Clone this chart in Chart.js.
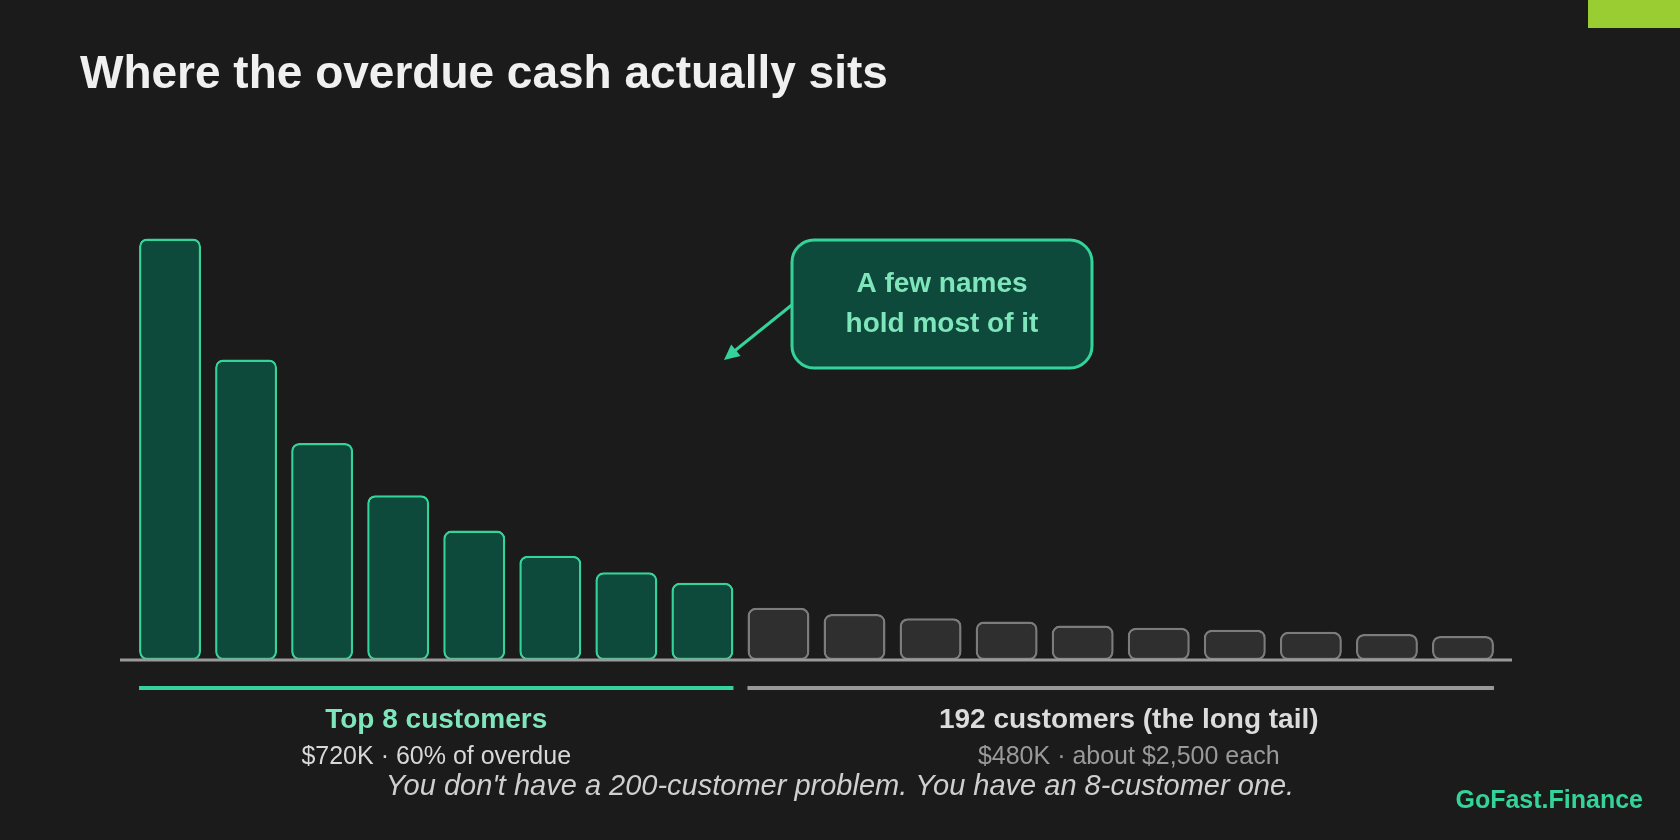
<!DOCTYPE html>
<html>
<head>
<meta charset="utf-8">
<title>Where the overdue cash actually sits</title>
<script src="https://cdn.jsdelivr.net/npm/chart.js@4.4.1/dist/chart.umd.min.js"></script>
<style>
  html, body { margin: 0; padding: 0; background: #1b1b1b; }
  #wrap { position: relative; width: 1680px; height: 840px; }
</style>
</head>
<body>
<div id="wrap"><canvas id="cashChart"></canvas></div>
<script>
// overdue balance per customer, $K
const topCustomers = ['#1', '#2', '#3', '#4', '#5', '#6', '#7', '#8'];
const topValues = [202, 144, 104, 79, 62, 50, 42, 37];
const tailGroups = ['T1', 'T2', 'T3', 'T4', 'T5', 'T6', 'T7', 'T8', 'T9', 'T10'];
const tailValues = [25, 22, 20, 18.5, 16.5, 15.5, 14.5, 13.5, 12.5, 11.5];

const title = 'Where the overdue cash actually sits';
const calloutLines = ['A few names', 'hold most of it'];
const topLabel = 'Top 8 customers';
const topSub = '$720K \u00b7 60% of overdue';
const tailLabel = '192 customers (the long tail)';
const tailSub = '$480K \u00b7 about $2,500 each';
const footer = "You don't have a 200-customer problem. You have an 8-customer one.";
const brand = 'GoFast.Finance';

const FONT = '"Liberation Sans", Arial, sans-serif';
const GREEN = '#34d399';
const GREEN_FILL = '#0e4a3b';
const MINT = '#7fe5bb';

const labels = topCustomers.concat(tailGroups);
const values = topValues.concat(tailValues);
const isTop = labels.map((_, i) => i < topValues.length);

function roundRect(ctx, x, y, w, h, r) {
    ctx.beginPath();
    ctx.moveTo(x + r, y);
    ctx.arcTo(x + w, y, x + w, y + h, r);
    ctx.arcTo(x + w, y + h, x, y + h, r);
    ctx.arcTo(x, y + h, x, y, r);
    ctx.arcTo(x, y, x + w, y, r);
    ctx.closePath();
}

// titles, baseline, brackets, callout and notes
const overlay = {
    id: 'overlay',
    beforeDraw(chart) {
        const ctx = chart.ctx;
        ctx.save();
        ctx.fillStyle = '#1b1b1b';
        ctx.fillRect(0, 0, chart.width, chart.height);
        ctx.fillStyle = '#9acd32';
        ctx.fillRect(1588, 0, 92, 28);
        ctx.fillStyle = '#f0f0f0';
        ctx.font = 'bold 46px ' + FONT;
        ctx.textBaseline = 'alphabetic';
        ctx.fillText(title, 80, 88);
        ctx.restore();
    },
    afterDraw(chart) {
        const ctx = chart.ctx;
        const area = chart.chartArea;
        const bars = chart.getDatasetMeta(0).data;
        const half = b => b.width / 2;
        ctx.save();

        // baseline
        ctx.strokeStyle = '#9a9a9a';
        ctx.lineWidth = 3;
        ctx.beginPath();
        ctx.moveTo(area.left - 12, area.bottom);
        ctx.lineTo(area.right + 11, area.bottom);
        ctx.stroke();

        // group brackets
        const nTop = topValues.length;
        const g0 = bars[0].x - half(bars[0]);
        const g1 = bars[nTop - 1].x + half(bars[nTop - 1]);
        const t0 = bars[nTop].x - half(bars[nTop]);
        const t1 = bars[bars.length - 1].x + half(bars[bars.length - 1]);
        ctx.lineWidth = 4;
        ctx.strokeStyle = GREEN;
        ctx.beginPath(); ctx.moveTo(g0, 688); ctx.lineTo(g1, 688); ctx.stroke();
        ctx.strokeStyle = '#999999';
        ctx.beginPath(); ctx.moveTo(t0, 688); ctx.lineTo(t1, 688); ctx.stroke();

        ctx.textAlign = 'center';
        ctx.textBaseline = 'alphabetic';
        const gc = (g0 + g1) / 2;
        const tc = (t0 + t1) / 2 + 8;
        ctx.font = 'bold 28px ' + FONT;
        ctx.fillStyle = MINT;
        ctx.fillText(topLabel, gc, 728);
        ctx.fillStyle = '#dcdcdc';
        ctx.fillText(tailLabel, tc, 728);
        ctx.font = '25px ' + FONT;
        ctx.fillStyle = '#d8d8d8';
        ctx.fillText(topSub, gc, 764);
        ctx.fillStyle = '#9a9a9a';
        ctx.fillText(tailSub, tc, 764);

        // footer line
        ctx.font = 'italic 29px ' + FONT;
        ctx.fillStyle = '#cfcfcf';
        ctx.fillText(footer, 840, 795);

        ctx.textAlign = 'right';
        ctx.font = 'bold 25px ' + FONT;
        ctx.fillStyle = GREEN;
        ctx.fillText(brand, 1643, 808);

        // callout arrow
        ctx.strokeStyle = GREEN;
        ctx.fillStyle = GREEN;
        ctx.lineWidth = 3;
        const ax = 724, ay = 360, bx = 793, by = 304;
        ctx.beginPath(); ctx.moveTo(bx, by); ctx.lineTo(ax + 8, ay - 7); ctx.stroke();
        const ang = Math.atan2(ay - by, ax - bx);
        ctx.beginPath();
        ctx.moveTo(ax, ay);
        ctx.lineTo(ax - 17 * Math.cos(ang - 0.45), ay - 17 * Math.sin(ang - 0.45));
        ctx.lineTo(ax - 17 * Math.cos(ang + 0.45), ay - 17 * Math.sin(ang + 0.45));
        ctx.closePath();
        ctx.fill();

        // callout box
        roundRect(ctx, 792, 240, 300, 128, 22);
        ctx.fillStyle = GREEN_FILL;
        ctx.fill();
        ctx.lineWidth = 3;
        ctx.strokeStyle = GREEN;
        ctx.stroke();
        ctx.textAlign = 'center';
        ctx.textBaseline = 'middle';
        ctx.font = 'bold 28px ' + FONT;
        ctx.fillStyle = MINT;
        ctx.fillText(calloutLines[0], 942, 284);
        ctx.fillText(calloutLines[1], 942, 324);
        ctx.restore();
    }
};

new Chart(document.getElementById('cashChart'), {
    type: 'bar',
    data: {
        labels: labels,
        datasets: [{
            data: values,
            backgroundColor: isTop.map(t => t ? GREEN_FILL : '#2f2f2f'),
            borderColor: isTop.map(t => t ? GREEN : '#7c7c7c'),
            borderWidth: 2.5,
            borderRadius: 8,
            borderSkipped: false,
            categoryPercentage: 0.815,
            barPercentage: 1.0
        }]
    },
    options: {
        responsive: true,
        maintainAspectRatio: false,
        animation: false,
        layout: { padding: { left: 132, right: 179, top: 203, bottom: 180 } },
        plugins: { legend: { display: false }, tooltip: { enabled: false } },
        scales: {
            x: { display: false },
            y: { display: false, min: 0, max: 219 }
        }
    },
    plugins: [overlay]
});
</script>
</body>
</html>
